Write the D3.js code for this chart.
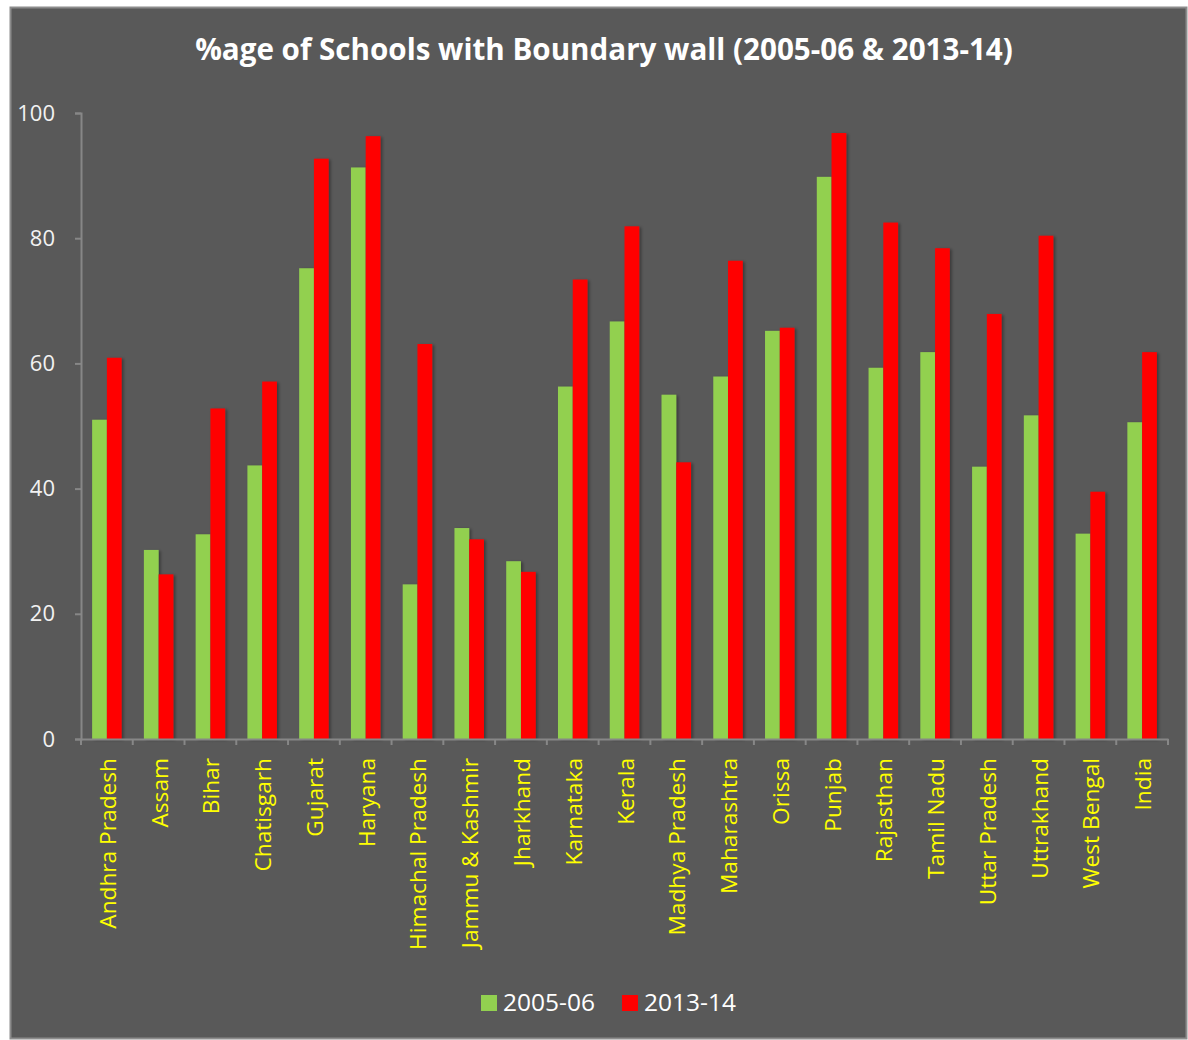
<!DOCTYPE html>
<html>
<head>
<meta charset="utf-8">
<script src="https://cdn.jsdelivr.net/npm/d3@7"></script>
<style>
  body { margin: 0; background: #fff; }
  svg { display: block; }
  text { font-family: 'Open Sans', sans-serif; }
</style>
</head>
<body>
<svg></svg>
<script>
const states = ['Andhra Pradesh', 'Assam', 'Bihar', 'Chatisgarh', 'Gujarat', 'Haryana',
    'Himachal Pradesh', 'Jammu & Kashmir', 'Jharkhand', 'Karnataka', 'Kerala',
    'Madhya Pradesh', 'Maharashtra', 'Orissa', 'Punjab', 'Rajasthan', 'Tamil Nadu',
    'Uttar Pradesh', 'Uttrakhand', 'West Bengal', 'India'];
const y2005 = [51.0, 30.2, 32.7, 43.7, 75.2, 91.3, 24.7, 33.7, 28.4, 56.3, 66.7,
    55.0, 57.9, 65.2, 89.8, 59.3, 61.8, 43.5, 51.7, 32.8, 50.6];
const y2013 = [60.9, 26.3, 52.8, 57.1, 92.7, 96.3, 63.1, 31.9, 26.7, 73.4, 81.9,
    44.2, 76.4, 65.7, 96.8, 82.5, 78.4, 67.9, 80.4, 39.5, 61.8];
const seriesNames = ['2005-06', '2013-14'];
const seriesColors = ['#92d050', '#ff0000'];
const yTicks = [0, 20, 40, 60, 80, 100];
const title = '%age of Schools with Boundary wall (2005-06 & 2013-14)';

const W = 1188, H = 1040;
const plot = {l: 81, r: 1168, t: 113, b: 739};

const svg = d3.select('svg').attr('width', W).attr('height', H);

const defs = svg.append('defs');
const shadow = defs.append('filter').attr('id', 'shd')
    .attr('x', '-20%').attr('y', '-5%').attr('width', '160%').attr('height', '110%');
shadow.append('feDropShadow')
    .attr('dx', 2).attr('dy', 1).attr('stdDeviation', 1.5)
    .attr('flood-color', '#000').attr('flood-opacity', 0.35);

// chart area
svg.append('rect')
    .attr('x', 10.5).attr('y', 7.5)
    .attr('width', W - 12).attr('height', H - 9)
    .attr('fill', '#595959')
    .attr('stroke', '#8c8c8c')
    .attr('stroke-width', 2);

const titleText = svg.append('text')
    .attr('x', 604).attr('y', 60)
    .attr('text-anchor', 'middle')
    .attr('fill', '#fff')
    .attr('font-weight', 'bold')
    .attr('font-size', 28)
    .text(title);
// squeeze to Calibri-like width
const tw = titleText.node().getComputedTextLength();
titleText.attr('font-size', 28 * 818 / tw);

const data = states.map((s, i) => ({state: s, values: [y2005[i], y2013[i]]}));

const x0 = d3.scaleBand()
    .domain(states)
    .range([plot.l, plot.r])
    .paddingInner(0.43)
    .paddingOuter(0.215);
const x1 = d3.scaleBand()
    .domain([0, 1])
    .range([0, x0.bandwidth()]);
const y = d3.scaleLinear()
    .domain([0, 100])
    .range([plot.b, plot.t]);

// y axis
const axisY = svg.append('g')
    .attr('transform', `translate(${plot.l},0)`)
    .call(d3.axisLeft(y).tickValues(yTicks).tickSize(6).tickPadding(20));
axisY.select('.domain').attr('stroke', '#878787').attr('stroke-width', 2);
axisY.selectAll('.tick line').attr('stroke', '#878787').attr('stroke-width', 2);
axisY.selectAll('.tick text')
    .attr('fill', '#f2f2f2')
    .attr('font-size', 22)
    .attr('font-family', "'Open Sans', sans-serif");

// bars
const groups = svg.append('g').selectAll('g')
    .data(data)
    .join('g')
    .attr('transform', d => `translate(${x0(d.state)},0)`);

groups.selectAll('rect')
    .data(d => d.values.map((v, k) => ({k, v})))
    .join('rect')
    .attr('x', d => x1(d.k))
    .attr('width', x1.bandwidth())
    .attr('y', d => y(d.v))
    .attr('height', d => y(0) - y(d.v))
    .attr('fill', d => seriesColors[d.k])
    .attr('filter', 'url(#shd)');

// x axis
const axisX = svg.append('g')
    .attr('transform', `translate(0,${plot.b})`)
    .call(d3.axisBottom(x0).tickSize(0).tickPadding(0));
axisX.select('.domain').attr('stroke', '#878787').attr('stroke-width', 2);
axisX.selectAll('.tick text').remove();

// category separator ticks
const sepX = states.map(s => x0(s) - x0.step() * x0.paddingInner() / 2)
    .concat([plot.r]);
axisX.selectAll('line.sep')
    .data(sepX)
    .join('line')
    .attr('class', 'sep')
    .attr('x1', d => d).attr('x2', d => d)
    .attr('y1', 0).attr('y2', 6)
    .attr('stroke', '#878787').attr('stroke-width', 2);

// rotated category labels
svg.append('g').selectAll('text')
    .data(states)
    .join('text')
    .attr('transform', d => `translate(${x0(d) + x0.bandwidth() / 2 + 9},758) rotate(-90)`)
    .attr('text-anchor', 'end')
    .attr('fill', '#ffff00')
    .attr('font-size', 22.7)
    .text(d => d);

// legend
const legend = svg.append('g').attr('transform', 'translate(481,1002)');
const legItems = legend.selectAll('g')
    .data(seriesNames)
    .join('g')
    .attr('transform', (d, i) => `translate(${i * 141},0)`);
legItems.append('rect')
    .attr('x', 0).attr('y', -7)
    .attr('width', 16).attr('height', 16)
    .attr('fill', (d, i) => seriesColors[i]);
legItems.append('text')
    .attr('x', 22).attr('y', 9)
    .attr('fill', '#fff')
    .attr('font-size', 24.5)
    .text(d => d);
</script>
</body>
</html>
